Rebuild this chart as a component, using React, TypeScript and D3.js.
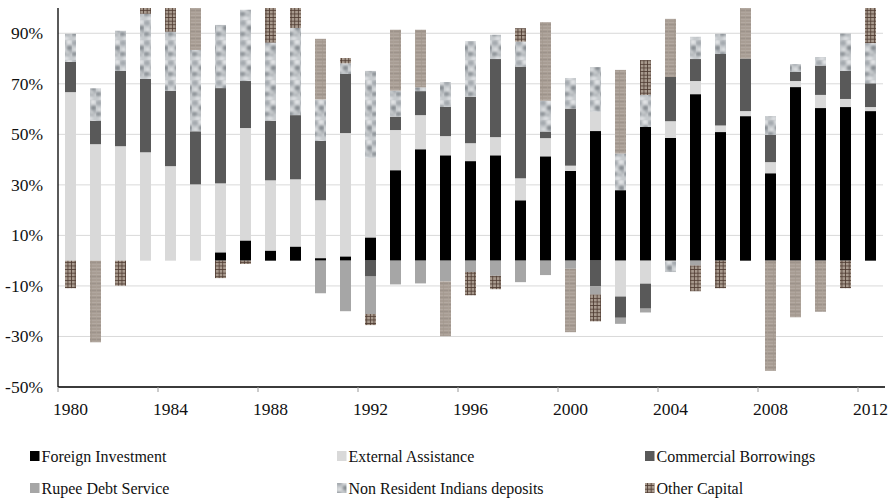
import React from "react";
import * as d3 from "d3";

const years: string[] = [
  "1980","1981","1982","1983","1984","1985","1986","1987","1988","1989",
  "1990","1991","1992","1993","1994","1995","1996","1997","1998","1999",
  "2000","2001","2002","2003","2004","2005","2006","2007","2008","2009",
  "2010","2011","2012",
];

const foreignInvestment = [0, 0, 0, 0, 0, 0, 3.3, 8.0, 4.0, 5.6, 1.0, 1.7, 9.2, 35.8, 44.1, 41.7, 39.4, 41.7, 23.9, 41.3, 35.5, 51.3, 27.9, 52.9, 48.6, 65.9, 50.9, 57.2, 34.6, 68.7, 60.4, 60.8, 59.2];
const externalAssistance = [66.7, 46.1, 45.3, 42.9, 37.4, 30.2, 27.3, 44.5, 27.8, 26.6, 22.9, 48.8, 31.5, 15.9, 13.5, 7.6, 7.1, 7.2, 8.7, 7.2, 2.1, 7.7, -14.2, -9.1, 6.6, 5.2, 2.6, 2.0, 4.4, 2.4, 5.2, 3.2, 1.6];
const commercialBorrowings = [12.0, 9.3, 29.8, 29.0, 29.8, 21.0, 37.7, 18.6, 23.6, 25.4, 23.5, 23.4, -6.3, 5.3, 9.5, 11.6, 18.4, 30.9, 44.2, 2.6, 22.6, -10.2, -8.4, -9.9, 17.5, 8.7, 28.3, 20.8, 10.8, 3.6, 11.6, 11.1, 9.4];
const rupeeDebtService = [0, 0, 0, 0, 0, 0, 0, 0, 0, 0, -12.9, -20.0, -14.8, -9.4, -9.0, -8.2, -4.5, -6.0, -8.5, -5.7, -3.2, -3.2, -2.4, -1.5, -0.3, -1.9, 0, 0, 0, 0, 0, 0, 0];
const nriDeposits = [11.1, 12.8, 15.9, 25.8, 23.4, 32.2, 25.0, 28.2, 30.9, 34.5, 16.4, 4.2, 34.4, 10.3, 1.5, 9.8, 22.0, 9.6, 9.9, 12.2, 12.1, 17.6, 14.5, 12.7, -4.2, 8.8, 8.0, 0, 7.4, 3.1, 3.4, 14.8, 15.9];
const otherCapital = [-10.9, -32.3, -9.9, 5, 12, 20, -6.9, -1.3, 14, 10, 24.0, 2.1, -4.4, 24.1, 22.8, -21.7, -9.2, -5.3, 5.3, 31.1, -25.1, -10.6, 33.1, 13.8, 23.0, -10.2, -10.9, 22, -43.6, -22.4, -20.2, -10.9, 14];

const seriesNames = [
  "Foreign Investment",
  "External Assistance",
  "Commercial Borrowings",
  "Rupee Debt Service",
  "Non Resident Indians deposits",
  "Other Capital",
];
const seriesValues = [foreignInvestment, externalAssistance, commercialBorrowings, rupeeDebtService, nriDeposits, otherCapital];

const yTicks = [-50, -30, -10, 10, 30, 50, 70, 90];
const xTickLabels = ["1980", "1984", "1988", "1992", "1996", "2000", "2004", "2008", "2012"];

const W = 890;
const H = 500;
const left = 58;
const right = 883;
const top = 8;
const bottom = 387;
const FONT = '"Liberation Serif", "DejaVu Serif", serif';

const fills: Record<string, string> = {
  "Foreign Investment": "#000000",
  "External Assistance": "#d9d9d9",
  "Commercial Borrowings": "#595959",
  "Rupee Debt Service": "#a6a6a6",
  "Non Resident Indians deposits": "url(#marble)",
  "Other Capital": "url(#plaid)",
};

export default function App() {
  const table = years.map((yr, i) => {
    const row: Record<string, any> = { year: yr };
    seriesNames.forEach((k, j) => (row[k] = seriesValues[j][i]));
    return row;
  });
  const stack = d3.stack<any>().keys(seriesNames).offset(d3.stackOffsetDiverging);
  const stacked = stack(table);

  const x = d3.scaleBand<string>().domain(years).range([left, right]).paddingInner(0.56).paddingOuter(0.28);
  const y = d3.scaleLinear().domain([-50, 100]).range([bottom, top]);
  const step = x.step();

  const legendCols = [30, 337, 645];
  const legendRows = [456, 488];
  const textStyle = { fontFamily: FONT };

  return (
    <svg width={W} height={H} style={{ position: "absolute", left: 0, top: 0, background: "#fff", fontFamily: FONT }}>
      <defs>
        <clipPath id="plotclip">
          <rect x={left} y={top} width={right - left + 2} height={bottom - top} />
        </clipPath>
        <pattern id="plaid" patternUnits="userSpaceOnUse" width={3.6} height={3.6}>
          <rect width={3.6} height={3.6} fill="#a89a8e" />
          <rect x={2.8} width={0.8} height={3.6} fill="#4e3a30" />
          <rect y={2.8} width={3.6} height={0.8} fill="#4e3a30" />
        </pattern>
        <pattern id="wood" patternUnits="userSpaceOnUse" width={11} height={7}>
          <rect width={11} height={7} fill="#a89d94" />
          <rect y={1} width={11} height={1} fill="#b3a9a1" />
          <rect y={3} width={11} height={1} fill="#9d938b" />
          <rect y={5} width={11} height={1} fill="#b0a69e" />
          <rect x={3} y={0} width={1} height={7} fill="#a2978e" opacity={0.6} />
          <rect x={8} y={0} width={1} height={7} fill="#aea39a" opacity={0.6} />
        </pattern>
        <filter id="soft" x="0" y="0" width="1" height="1">
          <feGaussianBlur stdDeviation="0.8" />
        </filter>
        <pattern id="marble" patternUnits="userSpaceOnUse" width={12} height={20}>
          <rect width={12} height={20} fill="#c6cacd" />
          <g filter="url(#soft)">
            <ellipse cx={3} cy={3} rx={3} ry={2.5} fill="#a3a8ad" />
            <ellipse cx={9} cy={2} rx={2.5} ry={2} fill="#e6e8ea" />
            <ellipse cx={9.5} cy={8} rx={2.7} ry={2.4} fill="#868c91" />
            <ellipse cx={3.5} cy={9.5} rx={2} ry={1.5} fill="#e2e4e6" />
            <ellipse cx={2.5} cy={14} rx={2.8} ry={2.2} fill="#8f949a" />
            <ellipse cx={8} cy={15} rx={2} ry={1.6} fill="#b0b4b8" />
            <ellipse cx={6} cy={18.5} rx={3} ry={1.4} fill="#e3e5e7" />
            <ellipse cx={11} cy={12} rx={1.3} ry={1.3} fill="#999ea3" />
          </g>
        </pattern>
      </defs>

      {/* gridlines */}
      {yTicks.map((t) => (
        <line key={"g" + t} x1={left} x2={right} y1={y(t)} y2={y(t)} stroke="#d9d9d9" strokeWidth={1} />
      ))}

      {/* bars */}
      <g clipPath="url(#plotclip)">
        {stacked.map((s) =>
          s.map((d, i) => {
            const v = seriesValues[seriesNames.indexOf(s.key)][i];
            if (!v) return null;
            const y0 = y(d[0]);
            const y1 = y(d[1]);
            let fill = fills[s.key];
            if (s.key === "Other Capital" && Math.abs(v) >= 15) fill = "url(#wood)";
            return (
              <rect
                key={s.key + i}
                x={x(years[i])}
                width={x.bandwidth()}
                y={Math.min(y0, y1)}
                height={Math.abs(y1 - y0)}
                fill={fill}
              />
            );
          })
        )}
      </g>

      {/* axes */}
      <line x1={left} x2={left} y1={top} y2={bottom} stroke="#000" strokeWidth={1.3} />
      <line x1={left} x2={right + 2} y1={bottom} y2={bottom} stroke="#000" strokeWidth={1.3} />
      {xTickLabels.map((lab) => {
        const cx = (x(lab) as number) - (step - x.bandwidth()) / 2;
        return <line key={"t" + lab} x1={cx} x2={cx} y1={bottom} y2={bottom + 5} stroke="#999" strokeWidth={1} />;
      })}
      {xTickLabels.map((lab) => (
        <text key={"xl" + lab} x={(x(lab) as number) + x.bandwidth() / 2} y={415} textAnchor="middle" fontSize={17.5} fill="#111" style={textStyle}>
          {lab}
        </text>
      ))}
      {yTicks.map((t) => (
        <text key={"yl" + t} x={43} y={y(t) + 6} textAnchor="end" fontSize={17.5} fill="#111" style={textStyle}>
          {t + "%"}
        </text>
      ))}

      {/* legend */}
      {seriesNames.map((name, i) => {
        const col = i % 3;
        const row = Math.floor(i / 3);
        const lx = legendCols[col];
        const ly = legendRows[row];
        return (
          <g key={"lg" + name}>
            <rect x={lx} y={ly - 5} width={9.5} height={10} fill={fills[name]} />
            <text x={lx + 11.5} y={ly + 5.5} fontSize={16} fill="#111" style={textStyle}>
              {name}
            </text>
          </g>
        );
      })}
    </svg>
  );
}
